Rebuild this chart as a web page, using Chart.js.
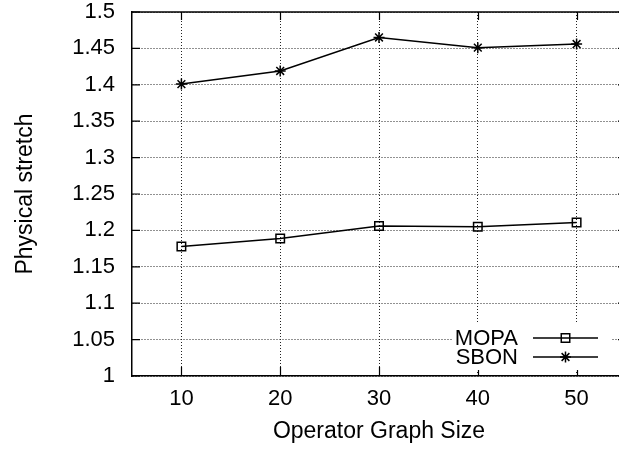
<!DOCTYPE html>
<html>
<head>
<meta charset="utf-8">
<title>Physical stretch vs operator graph size</title>
<script src="https://cdn.jsdelivr.net/npm/chart.js@4.4.0/dist/chart.umd.min.js"></script>
<style>
  html, body { margin: 0; padding: 0; overflow: hidden; background: #fff; }
  #wrap { position: relative; width: 640px; height: 451px; }
</style>
</head>
<body>
<div id="wrap"><canvas id="stretchChart"></canvas></div>
<script>
const graphSizes = [10, 20, 30, 40, 50];
const mopaStretch = [1.178, 1.189, 1.206, 1.205, 1.211];
const sbonStretch = [1.401, 1.419, 1.465, 1.451, 1.456];
const yTicks = [1, 1.05, 1.1, 1.15, 1.2, 1.25, 1.3, 1.35, 1.4, 1.45, 1.5];

const FONT = "'Liberation Sans', Arial, sans-serif";
Chart.defaults.font.family = FONT;
Chart.defaults.font.size = 22;
Chart.defaults.color = '#000';

const toPoints = vals => vals.map((v, i) => ({ x: graphSizes[i], y: v }));

// solid top edge plus inward tick marks on every side
const framePlugin = {
  id: 'frame',
  beforeDatasetsDraw(chart) {
    const { ctx, chartArea: a, scales: { x, y } } = chart;
    ctx.save();
    ctx.strokeStyle = '#000';
    ctx.lineWidth = 1.5;
    ctx.beginPath();
    ctx.moveTo(a.left, a.top);
    ctx.lineTo(a.right, a.top);
    ctx.stroke();
    ctx.lineWidth = 1.2;
    ctx.beginPath();
    graphSizes.forEach(v => {
      const px = Math.round(x.getPixelForValue(v)) + 0.5;
      ctx.moveTo(px, a.bottom); ctx.lineTo(px, a.bottom - 9);
      ctx.moveTo(px, a.top); ctx.lineTo(px, a.top + 8);
    });
    yTicks.forEach(v => {
      const py = y.getPixelForValue(v);
      ctx.moveTo(a.left, py); ctx.lineTo(a.left + 8, py);
      ctx.moveTo(a.right, py); ctx.lineTo(a.right - 8, py);
    });
    ctx.stroke();
    ctx.restore();
  }
};

// gnuplot-style key: label on the left, line sample with marker on the right
const keyPlugin = {
  id: 'key',
  afterDatasetsDraw(chart) {
    const { ctx, chartArea: a } = chart;
    const textRight = a.right - 108;
    const lineL = a.right - 93, lineR = a.right - 28;
    const rowY = [a.bottom - 38, a.bottom - 19];
    ctx.save();
    ctx.fillStyle = '#fff';
    ctx.fillRect(a.left + 320, a.bottom - 53, 160, 47);
    ctx.font = '22px ' + FONT;
    ctx.textAlign = 'right';
    ctx.textBaseline = 'middle';
    chart.data.datasets.forEach((ds, i) => {
      const yy = rowY[i];
      ctx.fillStyle = '#000';
      ctx.fillText(ds.label, textRight, yy + 1);
      ctx.strokeStyle = ds.borderColor;
      ctx.lineWidth = ds.borderWidth;
      ctx.beginPath();
      ctx.moveTo(lineL, yy); ctx.lineTo(lineR, yy);
      ctx.stroke();
      ctx.lineWidth = ds.pointBorderWidth;
      ctx.fillStyle = 'rgba(0,0,0,0)';
      Chart.helpers.drawPoint(ctx, {
        pointStyle: ds.pointStyle, radius: ds.pointRadius, rotation: 0,
        borderWidth: ds.pointBorderWidth
      }, (lineL + lineR) / 2, yy);
    });
    ctx.restore();
  }
};

new Chart(document.getElementById('stretchChart'), {
  type: 'line',
  data: {
    datasets: [
      {
        label: 'MOPA',
        data: toPoints(mopaStretch),
        borderColor: '#000',
        borderWidth: 1.5,
        pointStyle: 'rect',
        pointRadius: 6,
        pointBorderWidth: 1.5,
        pointBorderColor: '#000',
        pointBackgroundColor: 'rgba(0,0,0,0)',
        tension: 0
      },
      {
        label: 'SBON',
        data: toPoints(sbonStretch),
        borderColor: '#000',
        borderWidth: 1.5,
        pointStyle: 'star',
        pointRadius: 5.5,
        pointBorderWidth: 1.5,
        pointBorderColor: '#000',
        pointBackgroundColor: 'rgba(0,0,0,0)',
        tension: 0
      }
    ]
  },
  options: {
    responsive: true,
    maintainAspectRatio: false,
    devicePixelRatio: 1,
    animation: false,
    events: [],
    layout: { padding: { left: 0, top: 12, right: 14, bottom: 0 } },
    plugins: { legend: { display: false }, tooltip: { enabled: false } },
    scales: {
      x: {
        type: 'linear',
        min: 5,
        max: 55,
        afterBuildTicks: s => { s.ticks = graphSizes.map(v => ({ value: v })); },
        afterFit: s => { s.height = 75; s.paddingLeft = 0; s.paddingRight = 0; },
        ticks: { padding: 10, maxRotation: 0 },
        grid: { color: '#222', lineWidth: 1, drawTicks: false },
        border: { color: '#000', width: 1.5, dash: [1, 2] },
        title: { display: true, text: 'Operator Graph Size', font: { size: 23 }, padding: { top: 0, bottom: 6 } }
      },
      y: {
        min: 1,
        max: 1.5,
        afterBuildTicks: s => { s.ticks = yTicks.map(v => ({ value: v })); },
        afterFit: s => { s.width = 132; s.paddingTop = 0; s.paddingBottom = 0; },
        ticks: { padding: 17, callback: v => String(v) },
        grid: { color: '#222', lineWidth: 1, drawTicks: false },
        border: { color: '#000', width: 1.5, dash: [1, 2] },
        title: { display: true, text: 'Physical stretch', font: { size: 23 }, padding: { top: 12, bottom: 0 } }
      }
    }
  },
  plugins: [framePlugin, keyPlugin]
});
</script>
</body>
</html>
